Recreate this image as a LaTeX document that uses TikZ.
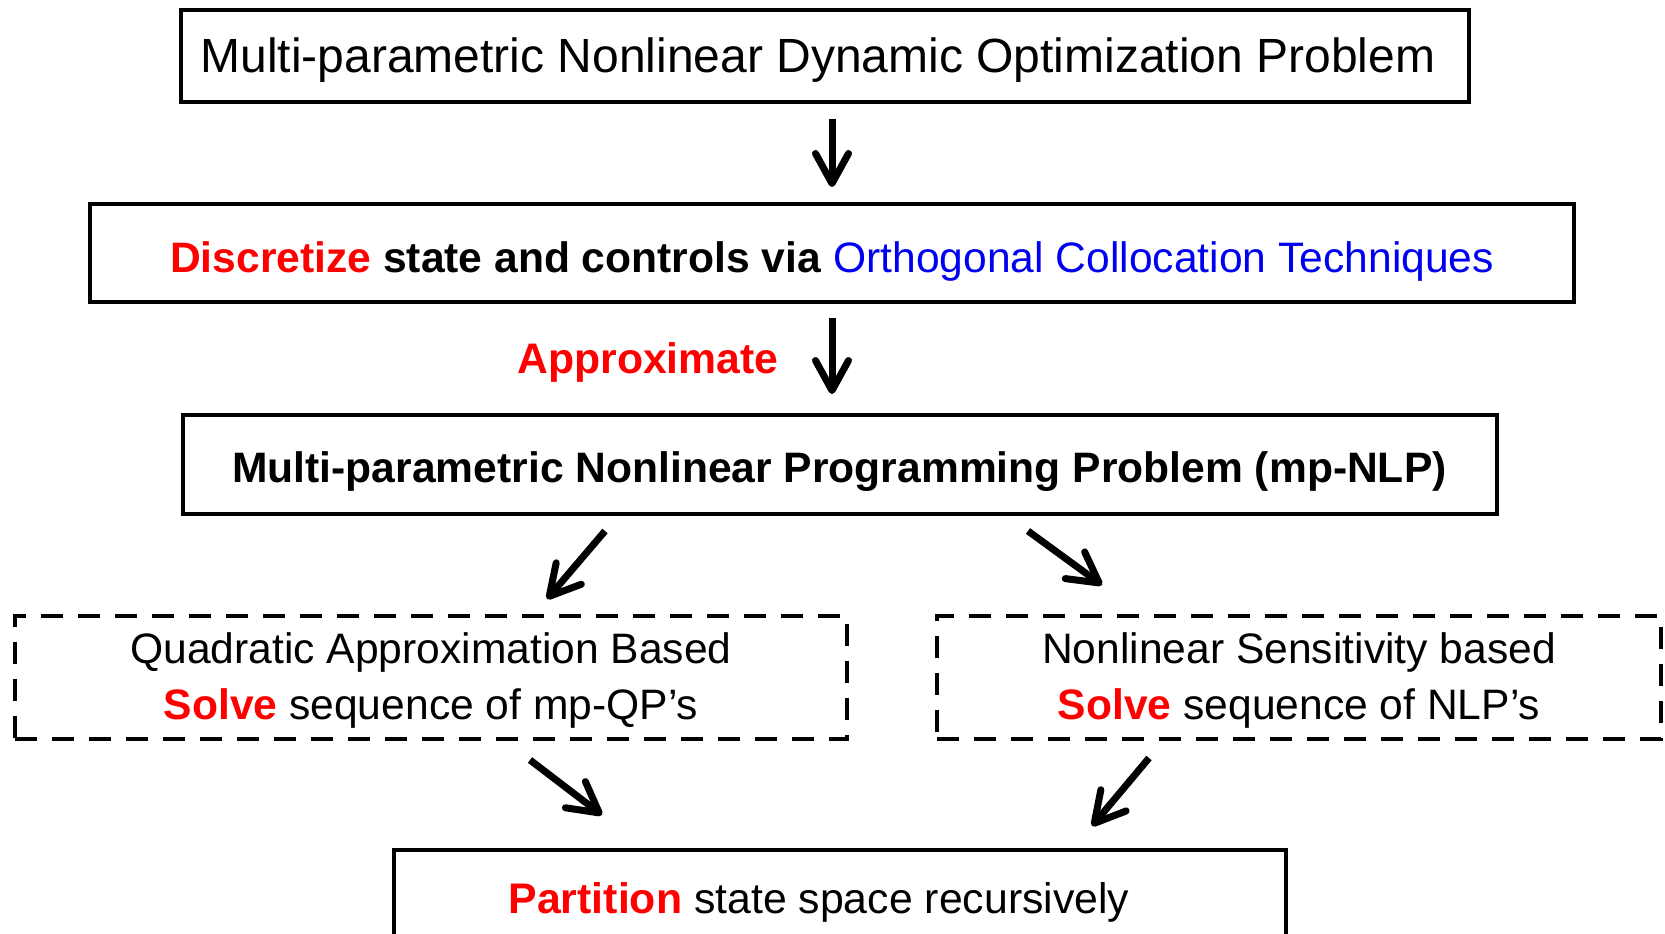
\documentclass[tikz,border=0pt]{standalone}
\usepackage{fontspec}
\setmainfont{Liberation Sans}
\usetikzlibrary{arrows.meta,calc}
\definecolor{hot}{RGB}{255,0,0}
\definecolor{deep}{RGB}{0,0,240}
\tikzset{
  solidbox/.style={draw, line width=2pt, inner sep=0pt, align=center},
  dashbox/.style={draw, line width=2pt, dash pattern=on 11pt off 7.5pt, inner sep=0pt},
  arr/.style={line width=3.5pt, -{Straight Barb[length=15pt,width=16.5pt,line width=3.5pt,round]}},
}
\newcommand{\hl}[1]{\textcolor{hot}{\bfseries #1}}
% move a text box right by #1 and down by #2 without changing its size
\newcommand{\nudge}[3]{\raisebox{-#2}[\height][\depth]{\kern#1\relax#3\kern-#1\relax}}
\newcommand{\twolines}[2]{\begin{tabular}{@{}c@{}}#1\\#2\end{tabular}}
\begin{document}
\begin{tikzpicture}[x=0.5pt,y=-0.5pt]
\clip (0,0) rectangle (1665,933);
\fill[white] (0,0) rectangle (1665,933);

% main chain of boxes
\node[solidbox, minimum width=644pt, minimum height=46pt, font=\fontsize{24}{28}\selectfont]
  (top) at (824.5,56) {\nudge{-3.25pt}{2pt}{Multi-parametric Nonlinear Dynamic Optimization Problem}};
\node[solidbox, minimum width=742pt, minimum height=49pt, font=\fontsize{21.3}{26}\selectfont]
  (disc) at (832,253) {\nudge{0pt}{4.25pt}{\hl{Discretize} \textbf{state and controls via} \textcolor{deep}{Orthogonal Collocation Techniques}}};
\node[font=\fontsize{21.35}{26}\selectfont] (approx) at (648,362) {\hl{Approximate}};
\node[solidbox, minimum width=657pt, minimum height=49.5pt, font=\fontsize{21.3}{26}\selectfont\bfseries]
  (nlp) at (839.5,464.5) {\nudge{0pt}{3.75pt}{Multi-parametric Nonlinear Programming Problem (mp-NLP)}};

% two solution routes
\node[dashbox, minimum width=416pt, minimum height=61.5pt, font=\fontsize{21.3}{28}\selectfont]
  (qp) at (431,677.5) {\nudge{0pt}{1.6pt}{\twolines{Quadratic Approximation Based}{\hl{Solve} sequence of mp-QP's}}};
\node[dashbox, minimum width=362pt, minimum height=61.5pt, font=\fontsize{21.3}{28}\selectfont]
  (sens) at (1299,677.5) {\nudge{0pt}{1.6pt}{\twolines{Nonlinear Sensitivity based}{\hl{Solve} sequence of NLP's}}};

% final step
\node[solidbox, minimum width=446pt, minimum height=50pt, font=\fontsize{21.4}{26}\selectfont]
  (part) at (840,900) {\nudge{-10.5pt}{1pt}{\hl{Partition} state space recursively}};

% connectors
\draw[arr] ($(top.south)+(7.5,15)$) -- ($(disc.north)+(0,-15)$);
\draw[arr] ($(disc.south)+(0,14)$) -- ($(nlp.north)+(-7.5,-19)$);
\draw[arr] ($(nlp.south)+(-234.5,15)$) -- ($(qp.north)+(116,-15)$);
\draw[arr] ($(nlp.south)+(188.5,15)$) -- ($(sens.north)+(-197,-29)$);
\draw[arr] ($(qp.south)+(99,19)$) -- ($(part.north)+(-238,-33)$);
\draw[arr] ($(sens.south)+(-150,17)$) -- ($(part.north)+(252,-22)$);
\end{tikzpicture}
\end{document}
